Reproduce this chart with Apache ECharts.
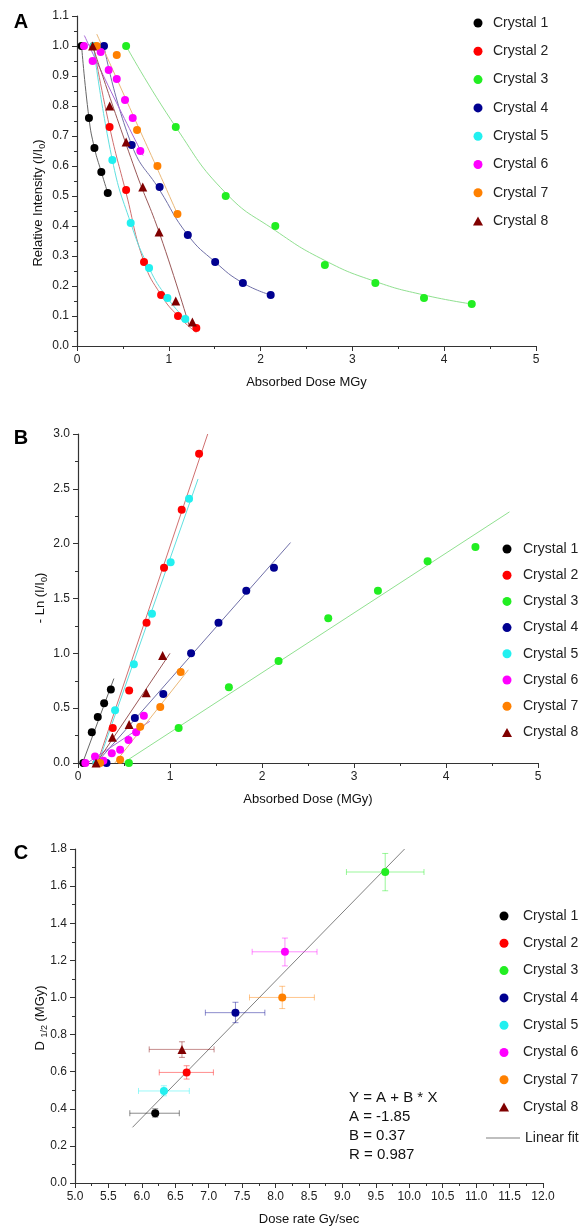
<!DOCTYPE html>
<html>
<head>
<meta charset="utf-8">
<script src="https://cdn.jsdelivr.net/npm/echarts@6/dist/echarts.min.js"></script>
<style>
  html, body { margin: 0; padding: 0; background: #fff; }
  #chart { width: 587px; height: 1227px; }
</style>
</head>
<body>
<div id="chart"></div>
<script>
const FONT = '"Liberation Sans", Arial, sans-serif';

// crystal names and look
const names = ['Crystal 1', 'Crystal 2', 'Crystal 3', 'Crystal 4', 'Crystal 5', 'Crystal 6', 'Crystal 7', 'Crystal 8'];
const colors = ['#000000', '#ff0000', '#22ee22', '#000090', '#22f0f0', '#ff00ff', '#ff8000', '#800000'];
const fitColors = ['#666666', '#d07070', '#90e090', '#7070a8', '#60e0e0', '#a868d8', '#eab878', '#9a5858'];

// panel A: relative intensity vs absorbed dose (MGy)
const doseA = [
  [0.05, 0.13, 0.19, 0.265, 0.335],
  [0.18, 0.355, 0.535, 0.73, 0.916, 1.10, 1.30],
  [0.535, 1.076, 1.62, 2.16, 2.70, 3.25, 3.78, 4.30],
  [0.294, 0.596, 0.90, 1.207, 1.505, 1.807, 2.11],
  [0.18, 0.385, 0.585, 0.785, 0.985, 1.18],
  [0.076, 0.17, 0.258, 0.345, 0.433, 0.523, 0.607, 0.69],
  [0.215, 0.433, 0.654, 0.876, 1.094],
  [0.17, 0.356, 0.535, 0.716, 0.894, 1.076, 1.257]
];
const relA = [
  [1.0, 0.76, 0.66, 0.58, 0.51],
  [1.0, 0.73, 0.52, 0.28, 0.17, 0.10, 0.06],
  [1.0, 0.73, 0.50, 0.40, 0.27, 0.21, 0.16, 0.14],
  [1.0, 0.67, 0.53, 0.37, 0.28, 0.21, 0.17],
  [1.0, 0.62, 0.41, 0.26, 0.16, 0.09],
  [1.0, 0.95, 0.98, 0.92, 0.89, 0.82, 0.76, 0.65],
  [1.0, 0.97, 0.72, 0.60, 0.44],
  [1.0, 0.80, 0.68, 0.53, 0.38, 0.15, 0.08]
];
// fitted decay curves of panel A
const fitDoseA = [
  [0.05, 0.13, 0.19, 0.265, 0.335],
  [0.18, 0.355, 0.535, 0.73, 0.916, 1.10, 1.30],
  [0.535, 1.076, 1.62, 2.16, 2.70, 3.25, 3.78, 4.30],
  [0.294, 0.596, 0.90, 1.207, 1.505, 1.807, 2.11],
  [0.18, 0.385, 0.585, 0.785, 0.985, 1.18],
  [0.08, 0.40, 0.72],
  [0.215, 0.654, 0.876, 1.094],
  [0.17, 0.63, 0.905, 1.22]
];
const fitRelA = [
  [1.0, 0.76, 0.66, 0.58, 0.51],
  [1.0, 0.73, 0.51, 0.28, 0.17, 0.10, 0.045],
  [1.0, 0.73, 0.51, 0.385, 0.285, 0.215, 0.17, 0.14],
  [1.0, 0.67, 0.52, 0.37, 0.28, 0.21, 0.17],
  [1.0, 0.62, 0.41, 0.26, 0.16, 0.09],
  [1.035, 0.83, 0.635],
  [1.04, 0.74, 0.59, 0.44],
  [1.0, 0.59, 0.37, 0.07]
];

// panel B: -ln(I/I0) vs absorbed dose (MGy)
const doseB = [
  [0.058, 0.15, 0.215, 0.284, 0.357],
  [0.20, 0.378, 0.556, 0.745, 0.935, 1.127, 1.316],
  [0.553, 1.094, 1.64, 2.18, 2.72, 3.26, 3.80, 4.32],
  [0.31, 0.618, 0.927, 1.229, 1.527, 1.829, 2.13],
  [0.20, 0.403, 0.607, 0.804, 1.007, 1.207],
  [0.08, 0.185, 0.276, 0.367, 0.458, 0.549, 0.632, 0.716],
  [0.24, 0.458, 0.676, 0.894, 1.116],
  [0.196, 0.374, 0.556, 0.742, 0.92]
];
const lnB = [
  [0.0, 0.28, 0.42, 0.545, 0.67],
  [0.0, 0.32, 0.66, 1.28, 1.78, 2.31, 2.82],
  [0.0, 0.32, 0.69, 0.93, 1.32, 1.57, 1.84, 1.97],
  [0.0, 0.41, 0.63, 1.0, 1.28, 1.57, 1.78],
  [0.0, 0.48, 0.90, 1.36, 1.83, 2.41],
  [0.0, 0.06, 0.02, 0.09, 0.12, 0.21, 0.28, 0.43],
  [0.0, 0.03, 0.33, 0.51, 0.83],
  [0.0, 0.235, 0.35, 0.64, 0.98]
];
// linear fits of panel B: start and end dose, start and end value
const fitDoseB = [[0.05, 0.39], [0.21, 1.41], [0.49, 4.69], [0.2, 2.31], [0.22, 1.305], [0.1, 0.78], [0.4, 1.2], [0.2, 1.0]];
const fitLnB = [[0, 0.77], [0, 3.0], [0, 2.29], [0, 2.01], [0, 2.59], [0, 0.38], [0, 0.85], [0, 1.0]];

// panel C: D1/2 (MGy) vs dose rate (Gy/sec), with error ranges
const rate = [6.20, 6.67, 9.64, 7.40, 6.33, 8.14, 8.10, 6.60];
const rateLo = [5.82, 6.26, 9.06, 6.95, 5.95, 7.65, 7.61, 6.11];
const rateHi = [6.56, 7.07, 10.22, 7.84, 6.71, 8.62, 8.58, 7.08];
const dHalf = [0.376, 0.596, 1.676, 0.918, 0.496, 1.246, 1.0, 0.72];
const dHalfLo = [0.355, 0.56, 1.575, 0.864, 0.47, 1.17, 0.94, 0.677];
const dHalfHi = [0.40, 0.632, 1.776, 0.974, 0.524, 1.32, 1.06, 0.761];
const fitRate = [5.86, 9.93];
const fitDHalf = [0.30, 1.80];
const fitText = ['Y = A + B * X', 'A = -1.85', 'B = 0.37', 'R = 0.987'];

const zip = (xs, ys) => xs.map((x, i) => [x, ys[i]]);

const chart = echarts.init(document.getElementById('chart'));

function makeAxis(gridIndex, min, max, interval, fmt, extra) {
  return Object.assign({
    type: 'value',
    gridIndex: gridIndex,
    min: min,
    max: max,
    interval: interval,
    splitLine: { show: false },
    axisLine: { show: true, onZero: false, lineStyle: { color: '#333', width: 1.2 } },
    axisTick: { show: true, length: 5, lineStyle: { color: '#333' } },
    minorTick: { show: true, splitNumber: 2, length: 3, lineStyle: { color: '#333' } },
    axisLabel: { fontSize: 12, color: '#222', fontFamily: FONT, margin: 8, formatter: fmt },
    nameTextStyle: { fontSize: 13, color: '#111', fontFamily: FONT }
  }, extra || {});
}
const f0 = v => String(Math.round(v));
const f1 = v => v.toFixed(1);

const series = [];
for (let i = 0; i < 8; i++) {
  const sym = i === 7 ? 'triangle' : 'circle';
  const size = i === 7 ? 9 : 8;
  // panel A
  series.push({
    type: 'line', xAxisIndex: 0, yAxisIndex: 0, silent: true, z: 2,
    data: zip(fitDoseA[i], fitRelA[i]), smooth: 0.5, symbol: 'none',
    lineStyle: { color: fitColors[i], width: 1 }
  });
  series.push({
    type: 'scatter', name: names[i], xAxisIndex: 0, yAxisIndex: 0, z: 3,
    data: zip(doseA[i], relA[i]), symbol: sym, symbolSize: size,
    itemStyle: { color: colors[i], opacity: 1 }
  });
  // panel B
  series.push({
    type: 'line', xAxisIndex: 1, yAxisIndex: 1, silent: true, z: 2,
    data: zip(fitDoseB[i], fitLnB[i]), symbol: 'none',
    lineStyle: { color: fitColors[i], width: 1 }
  });
  series.push({
    type: 'scatter', name: names[i], xAxisIndex: 1, yAxisIndex: 1, z: 3,
    data: zip(doseB[i], lnB[i]), symbol: sym, symbolSize: size,
    itemStyle: { color: colors[i], opacity: 1 }
  });
  // panel C
  series.push({
    type: 'scatter', name: names[i], xAxisIndex: 2, yAxisIndex: 2, z: 4,
    data: [[rate[i], dHalf[i]]], symbol: sym, symbolSize: size,
    itemStyle: { color: colors[i], opacity: 1 }
  });
}
// error bars of panel C
series.push({
  type: 'custom', xAxisIndex: 2, yAxisIndex: 2, silent: true, z: 3,
  data: rate.map((r, i) => [r, dHalf[i], rateLo[i], rateHi[i], dHalfLo[i], dHalfHi[i]]),
  renderItem: function (params, api) {
    const x = api.value(0), y = api.value(1);
    const l = api.coord([api.value(2), y]);
    const r = api.coord([api.value(3), y]);
    const b = api.coord([x, api.value(4)]);
    const t = api.coord([x, api.value(5)]);
    const cap = 3;
    const st = { stroke: colors[params.dataIndex], lineWidth: 1, opacity: 0.45 };
    const ln = (x1, y1, x2, y2) => ({ type: 'line', shape: { x1, y1, x2, y2 }, style: st });
    return {
      type: 'group',
      children: [
        ln(l[0], l[1], r[0], r[1]),
        ln(l[0], l[1] - cap, l[0], l[1] + cap),
        ln(r[0], r[1] - cap, r[0], r[1] + cap),
        ln(b[0], b[1], t[0], t[1]),
        ln(b[0] - cap, b[1], b[0] + cap, b[1]),
        ln(t[0] - cap, t[1], t[0] + cap, t[1])
      ]
    };
  }
});
series.push({
  type: 'line', name: 'Linear fit', xAxisIndex: 2, yAxisIndex: 2, z: 2,
  data: zip(fitRate, fitDHalf), symbol: 'none', showSymbol: false,
  itemStyle: { color: '#808080' },
  lineStyle: { color: '#808080', width: 1 }
});

const legendData = names.map((n, i) => ({ name: n, icon: i === 7 ? 'triangle' : 'circle' }));
function makeLegend(left, top, gap, pad) {
  return {
    orient: 'vertical', left: left, top: top, itemGap: gap,
    itemWidth: 10, itemHeight: 9, selectedMode: false,
    textStyle: { fontSize: 14, lineHeight: 14, color: '#222', fontFamily: FONT, padding: [0, 0, 0, pad] },
    data: legendData
  };
}

const option = {
  animation: false,
  backgroundColor: '#fff',
  grid: [
    { left: 77, top: 16, width: 459, height: 330 },
    { left: 78, top: 434, width: 460, height: 329 },
    { left: 75, top: 849, width: 468, height: 334 }
  ],
  xAxis: [
    makeAxis(0, 0, 5, 1, f0, { name: 'Absorbed Dose MGy', nameLocation: 'middle', nameGap: 30 }),
    makeAxis(1, 0, 5, 1, f0, { name: 'Absorbed Dose (MGy)', nameLocation: 'middle', nameGap: 30 }),
    makeAxis(2, 5, 12, 0.5, f1, { name: 'Dose rate Gy/sec', nameLocation: 'middle', nameGap: 30 })
  ],
  yAxis: [
    makeAxis(0, 0, 1.1, 0.1, f1),
    makeAxis(1, 0, 3, 0.5, f1),
    makeAxis(2, 0, 1.8, 0.2, f1)
  ],
  legend: [
    makeLegend(468, 11, 14.3, 5),
    makeLegend(497, 537, 12.2, 6),
    makeLegend(494, 904, 13.3, 9),
    {
      orient: 'vertical', left: 481, top: 1126, itemWidth: 34, itemHeight: 1, selectedMode: false,
      itemStyle: { color: '#808080' },
      textStyle: { fontSize: 14, lineHeight: 14, color: '#222', fontFamily: FONT },
      data: [{ name: 'Linear fit', icon: 'rect' }]
    }
  ],
  graphic: [
    { type: 'text', x: 21, y: 22, style: { text: 'A', font: 'bold 20px ' + FONT, fill: '#000', align: 'center', verticalAlign: 'middle' } },
    { type: 'text', x: 21, y: 438, style: { text: 'B', font: 'bold 20px ' + FONT, fill: '#000', align: 'center', verticalAlign: 'middle' } },
    { type: 'text', x: 21, y: 853, style: { text: 'C', font: 'bold 20px ' + FONT, fill: '#000', align: 'center', verticalAlign: 'middle' } },
    {
      type: 'text', x: 38, y: 203, rotation: Math.PI / 2,
      style: {
        text: '{a|Relative Intensity (I/I}{s|0}{a|)}', align: 'center', verticalAlign: 'middle', fill: '#111',
        rich: {
          a: { fontSize: 13, lineHeight: 18, fontFamily: FONT, fill: '#111' },
          s: { fontSize: 9, lineHeight: 9, fontFamily: FONT, fill: '#111', verticalAlign: 'bottom' }
        }
      }
    },
    {
      type: 'text', x: 40, y: 598, rotation: Math.PI / 2,
      style: {
        text: '{a|- Ln (I/I}{s|0}{a|)}', align: 'center', verticalAlign: 'middle', fill: '#111',
        rich: {
          a: { fontSize: 13, lineHeight: 18, fontFamily: FONT, fill: '#111' },
          s: { fontSize: 9, lineHeight: 9, fontFamily: FONT, fill: '#111', verticalAlign: 'bottom' }
        }
      }
    },
    {
      type: 'text', x: 40, y: 1018, rotation: Math.PI / 2,
      style: {
        text: '{a|D }{s|1/2}{a| (MGy)}', align: 'center', verticalAlign: 'middle', fill: '#111',
        rich: {
          a: { fontSize: 13, lineHeight: 18, fontFamily: FONT, fill: '#111' },
          s: { fontSize: 9, lineHeight: 9, fontFamily: FONT, fill: '#111', verticalAlign: 'bottom' }
        }
      }
    },
    {
      type: 'text', x: 349, y: 1088,
      style: { text: fitText.join('\n'), font: '15px ' + FONT, lineHeight: 19, fill: '#111' }
    }
  ],
  series: series
};

chart.setOption(option);
</script>
</body>
</html>
